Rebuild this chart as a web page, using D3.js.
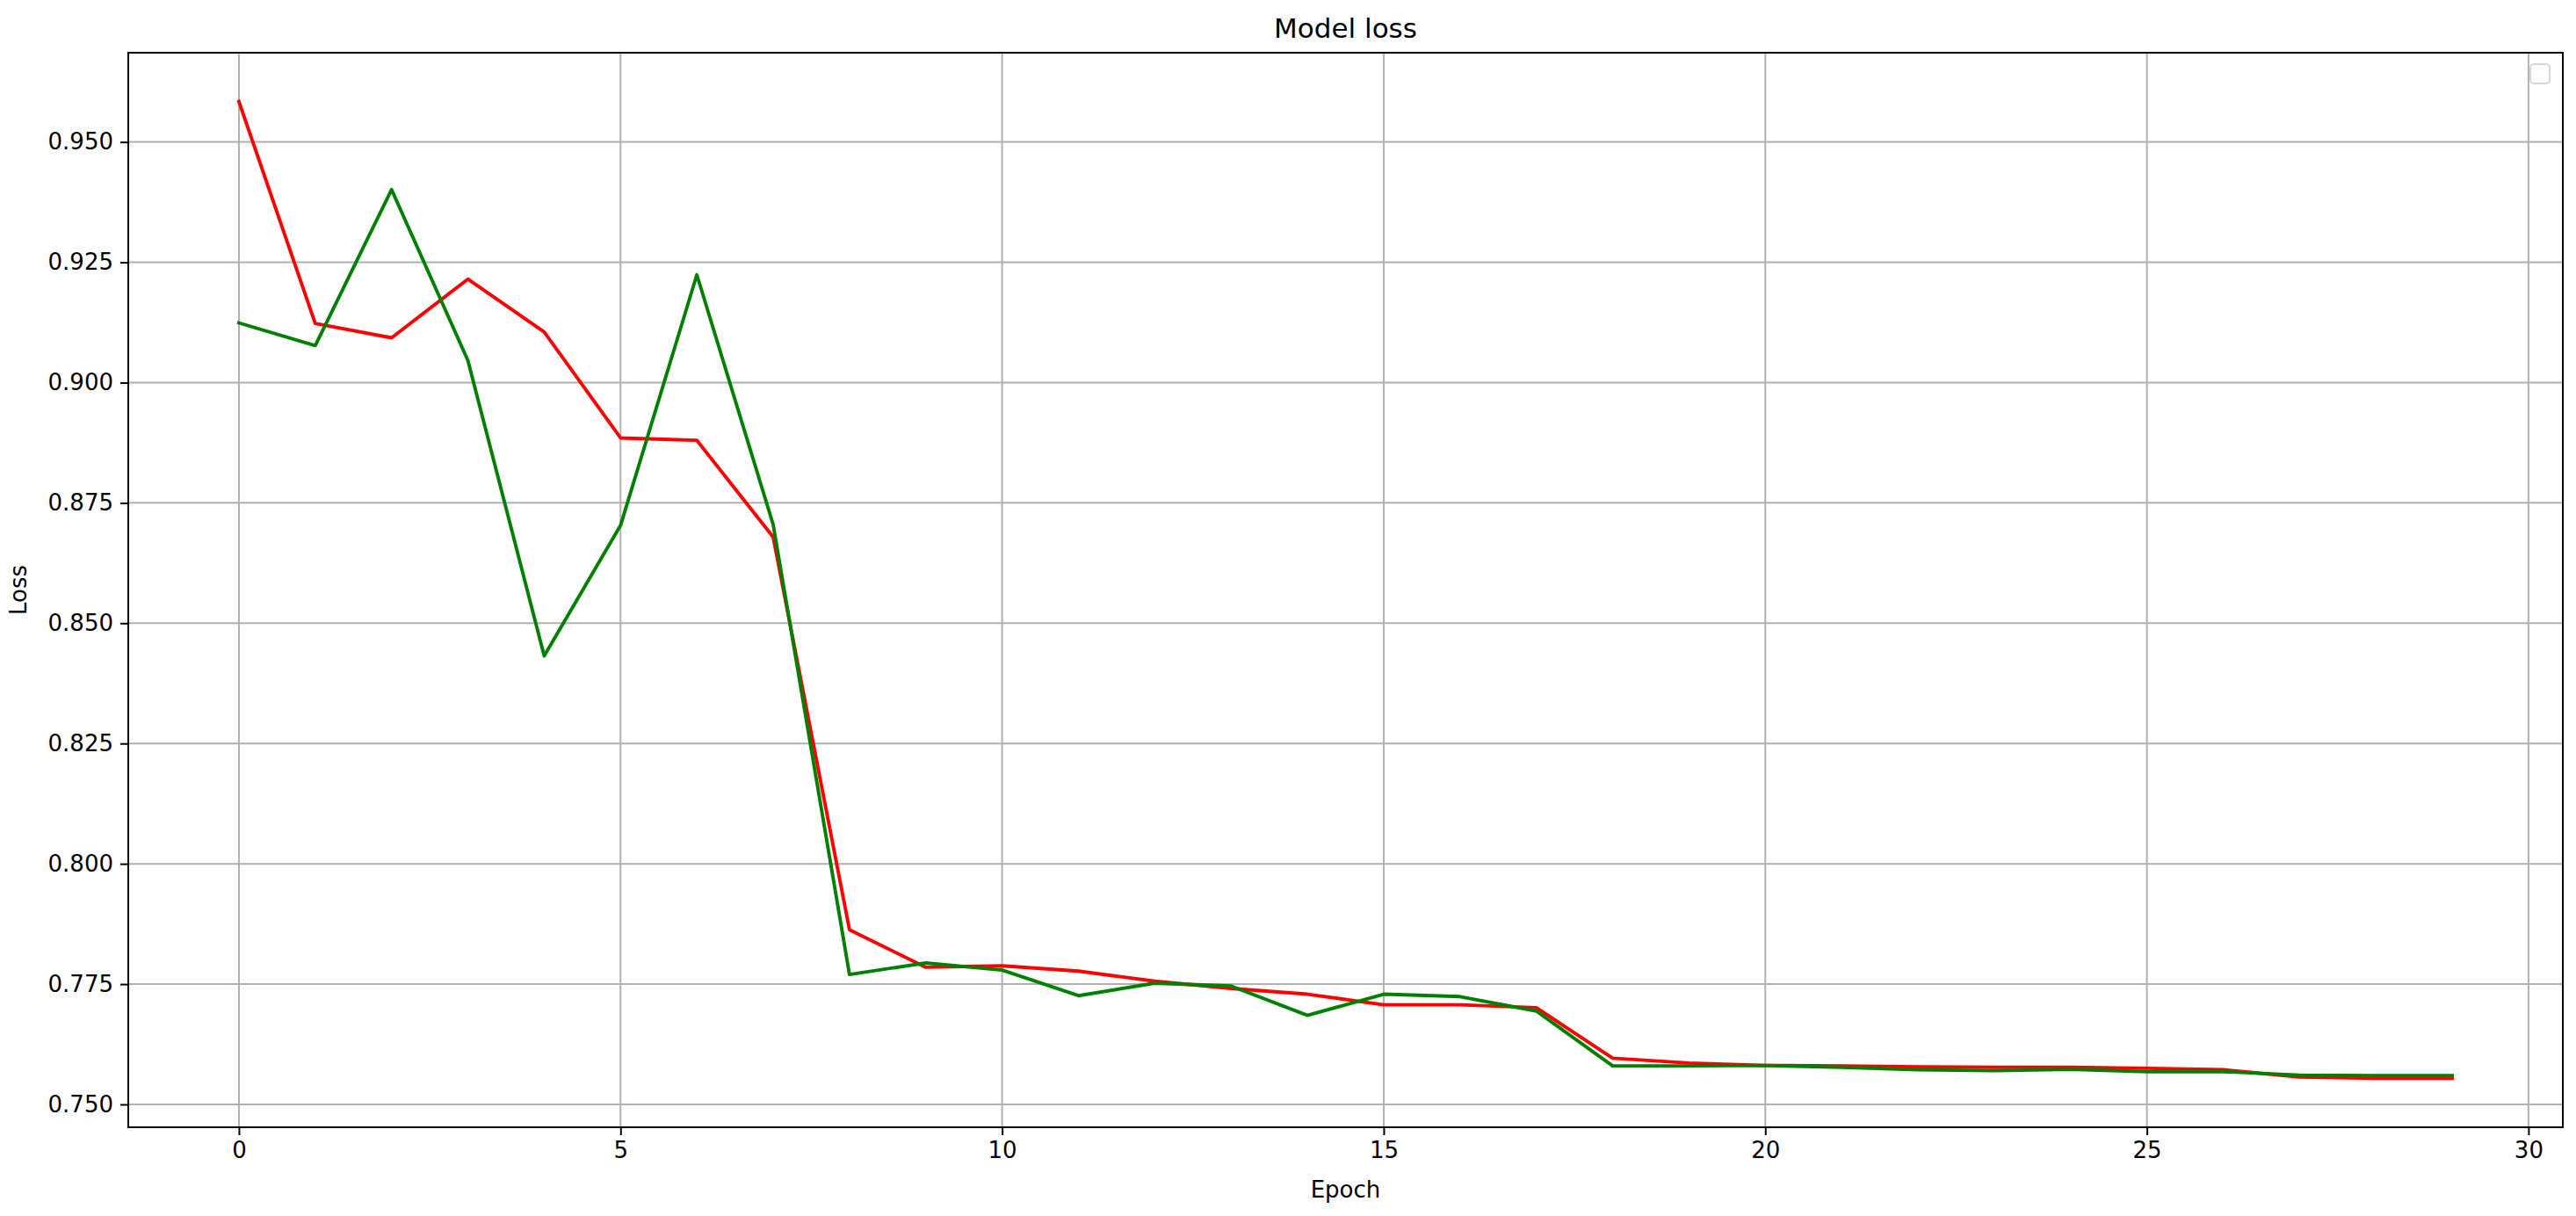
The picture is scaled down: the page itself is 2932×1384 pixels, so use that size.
<!DOCTYPE html>
<html>
<head>
<meta charset="utf-8">
<script src="https://cdn.jsdelivr.net/npm/d3@7"></script>
<style>
  body { margin: 0; background: #fff; }
  svg { display: block; font-family: "DejaVu Sans", sans-serif; }
</style>
</head>
<body>
<svg id="chart" width="2932" height="1384"></svg>
<script>
// data
var epochs = [0, 1, 2, 3, 4, 5, 6, 7, 8, 9, 10, 11, 12, 13, 14, 15, 16, 17, 18, 19, 20, 21, 22, 23, 24, 25, 26, 27, 28, 29];
var lossRed = [0.9584, 0.9123, 0.9093, 0.9215, 0.9105, 0.8885, 0.8880, 0.8679, 0.7863, 0.7785,
               0.7788, 0.7777, 0.7756, 0.7741, 0.7729, 0.7707, 0.7707, 0.7701, 0.7596, 0.7586,
               0.7581, 0.7580, 0.7578, 0.7577, 0.7577, 0.7575, 0.7572, 0.7557, 0.7554, 0.7554];
var lossGreen = [0.9124, 0.9077, 0.9401, 0.9046, 0.8432, 0.8703, 0.9224, 0.8705, 0.7770, 0.7794,
                 0.7779, 0.7726, 0.7752, 0.7746, 0.7685, 0.7729, 0.7724, 0.7694, 0.7580, 0.7580,
                 0.7581, 0.7577, 0.7572, 0.7570, 0.7573, 0.7568, 0.7568, 0.7561, 0.7560, 0.7560];
var xTicks = [0, 5, 10, 15, 20, 25, 30];
var yTicks = [0.750, 0.775, 0.800, 0.825, 0.850, 0.875, 0.900, 0.925, 0.950];

var svg = d3.select("#chart");
var width = +svg.attr("width");
var height = +svg.attr("height");
var margin = {top: 60, right: 15, bottom: 101, left: 146};
var w = width - margin.left - margin.right;
var h = height - margin.top - margin.bottom;

// matplotlib style 5% padding around the data
var xMin = d3.min(epochs), xMax = d3.max(epochs);
var xPad = (xMax - xMin) * 0.05;
var allY = lossRed.concat(lossGreen);
var yMin = d3.min(allY), yMax = d3.max(allY);
var yPad = (yMax - yMin) * 0.05;

var x = d3.scaleLinear().domain([xMin - xPad, xMax + xPad]).range([0, w]);
var y = d3.scaleLinear().domain([yMin - yPad, yMax + yPad]).range([h, 0]);

var g = svg.append("g").attr("transform", "translate(" + margin.left + "," + margin.top + ")");

// grid
g.append("g").attr("class", "grid-x")
  .selectAll("line").data(xTicks).enter().append("line")
    .attr("x1", function(d) { return x(d); })
    .attr("x2", function(d) { return x(d); })
    .attr("y1", 0).attr("y2", h)
    .style("stroke", "#b0b0b0").style("stroke-width", 2);
g.append("g").attr("class", "grid-y")
  .selectAll("line").data(yTicks).enter().append("line")
    .attr("x1", 0).attr("x2", w)
    .attr("y1", function(d) { return y(d); })
    .attr("y2", function(d) { return y(d); })
    .style("stroke", "#b0b0b0").style("stroke-width", 2);

// lines
var line = d3.line()
  .x(function(d, i) { return x(epochs[i]); })
  .y(function(d) { return y(d); });

g.append("path").datum(lossRed)
  .attr("d", line)
  .style("fill", "none").style("stroke", "#ff0000").style("stroke-width", 3.9)
  .style("stroke-linejoin", "round").style("stroke-linecap", "square");
g.append("path").datum(lossGreen)
  .attr("d", line)
  .style("fill", "none").style("stroke", "#008000").style("stroke-width", 3.9)
  .style("stroke-linejoin", "round").style("stroke-linecap", "square");

// axes
var xAxis = g.append("g")
  .attr("transform", "translate(0," + h + ")")
  .call(d3.axisBottom(x).tickValues(xTicks).tickFormat(d3.format("d")).tickSize(9).tickPadding(8));
var yAxis = g.append("g")
  .call(d3.axisLeft(y).tickValues(yTicks).tickFormat(d3.format(".3f")).tickSize(9).tickPadding(8));

[xAxis, yAxis].forEach(function(a) {
  a.select(".domain").remove();
  a.selectAll(".tick line").style("stroke", "#000").style("stroke-width", 2);
  a.selectAll(".tick text").style("font-size", "26px").style("fill", "#000")
    .style("font-family", "'DejaVu Sans', sans-serif");
});

// frame
g.append("rect")
  .attr("x", 0).attr("y", 0).attr("width", w).attr("height", h)
  .style("fill", "none").style("stroke", "#000").style("stroke-width", 2);

// title and labels
svg.append("text")
  .attr("x", margin.left + w / 2).attr("y", 43)
  .attr("text-anchor", "middle")
  .style("font-size", "31px").text("Model loss");

svg.append("text")
  .attr("x", margin.left + w / 2).attr("y", 1363)
  .attr("text-anchor", "middle")
  .style("font-size", "26px").text("Epoch");

svg.append("text")
  .attr("transform", "translate(30," + (margin.top + h / 2) + ") rotate(-90)")
  .attr("text-anchor", "middle")
  .style("font-size", "26px").text("Loss");

// empty legend box
svg.append("rect")
  .attr("x", 2880).attr("y", 73).attr("width", 22).attr("height", 22)
  .attr("rx", 4)
  .style("fill", "#fff").style("stroke", "#d6d6d6").style("stroke-width", 2);
</script>
</body>
</html>
